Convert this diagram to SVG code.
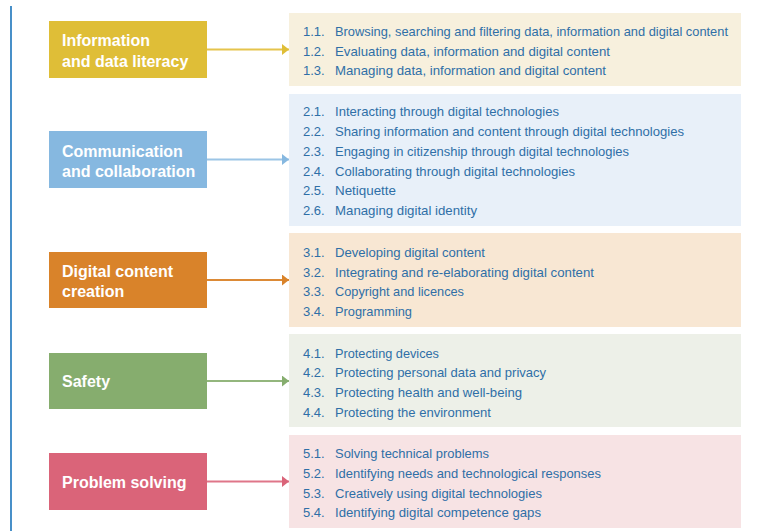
<svg xmlns="http://www.w3.org/2000/svg" width="764" height="531" viewBox="0 0 764 531">
<style>
.lbl{font-family:"Liberation Sans",Arial,sans-serif;font-weight:bold;font-size:16px;fill:#ffffff}
.it{font-family:"Liberation Sans",Arial,sans-serif;font-size:13px;fill:#2f6fa7}
.conn{stroke-width:2;fill:none}
</style>
<defs>
<marker id="a1" viewBox="0 0 7 11" refX="7" refY="5.5" markerWidth="7" markerHeight="11" markerUnits="userSpaceOnUse" orient="auto"><path d="M0,0L7,5.5L0,11z" fill="#dfbe37"/></marker>
<marker id="a2" viewBox="0 0 7 11" refX="7" refY="5.5" markerWidth="7" markerHeight="11" markerUnits="userSpaceOnUse" orient="auto"><path d="M0,0L7,5.5L0,11z" fill="#86b8e0"/></marker>
<marker id="a3" viewBox="0 0 7 11" refX="7" refY="5.5" markerWidth="7" markerHeight="11" markerUnits="userSpaceOnUse" orient="auto"><path d="M0,0L7,5.5L0,11z" fill="#d9832a"/></marker>
<marker id="a4" viewBox="0 0 7 11" refX="7" refY="5.5" markerWidth="7" markerHeight="11" markerUnits="userSpaceOnUse" orient="auto"><path d="M0,0L7,5.5L0,11z" fill="#86ad6e"/></marker>
<marker id="a5" viewBox="0 0 7 11" refX="7" refY="5.5" markerWidth="7" markerHeight="11" markerUnits="userSpaceOnUse" orient="auto"><path d="M0,0L7,5.5L0,11z" fill="#da6479"/></marker>
</defs>
<rect width="764" height="531" fill="#ffffff"/>
<line x1="11" y1="6" x2="11" y2="531" stroke="#1a74bb" stroke-width="1.6"/>

<g id="panel1">
<rect x="289" y="13" width="452" height="73" fill="#f7f0dd"/>
<text class="it" x="303" y="36">1.1.</text><text class="it" x="335" y="36" textLength="393" lengthAdjust="spacingAndGlyphs">Browsing, searching and filtering data, information and digital content</text>
<text class="it" x="303" y="55.5">1.2.</text><text class="it" x="335" y="55.5" textLength="275" lengthAdjust="spacingAndGlyphs">Evaluating data, information and digital content</text>
<text class="it" x="303" y="75">1.3.</text><text class="it" x="335" y="75" textLength="271" lengthAdjust="spacingAndGlyphs">Managing data, information and digital content</text>
</g>
<g id="panel2">
<rect x="289" y="94" width="452" height="132" fill="#e8f0f9"/>
<text class="it" x="303" y="116">2.1.</text><text class="it" x="335" y="116" textLength="224" lengthAdjust="spacingAndGlyphs">Interacting through digital technologies</text>
<text class="it" x="303" y="135.5">2.2.</text><text class="it" x="335" y="135.5" textLength="349" lengthAdjust="spacingAndGlyphs">Sharing information and content through digital technologies</text>
<text class="it" x="303" y="155.5">2.3.</text><text class="it" x="335" y="155.5" textLength="294" lengthAdjust="spacingAndGlyphs">Engaging in citizenship through digital technologies</text>
<text class="it" x="303" y="175.5">2.4.</text><text class="it" x="335" y="175.5" textLength="240" lengthAdjust="spacingAndGlyphs">Collaborating through digital technologies</text>
<text class="it" x="303" y="195">2.5.</text><text class="it" x="335" y="195" textLength="61" lengthAdjust="spacingAndGlyphs">Netiquette</text>
<text class="it" x="303" y="214.5">2.6.</text><text class="it" x="335" y="214.5" textLength="142" lengthAdjust="spacingAndGlyphs">Managing digital identity</text>
</g>
<g id="panel3">
<rect x="289" y="233" width="452" height="94" fill="#f8e7d3"/>
<text class="it" x="303" y="257">3.1.</text><text class="it" x="335" y="257" textLength="150" lengthAdjust="spacingAndGlyphs">Developing digital content</text>
<text class="it" x="303" y="276.5">3.2.</text><text class="it" x="335" y="276.5" textLength="259" lengthAdjust="spacingAndGlyphs">Integrating and re-elaborating digital content</text>
<text class="it" x="303" y="296">3.3.</text><text class="it" x="335" y="296" textLength="129" lengthAdjust="spacingAndGlyphs">Copyright and licences</text>
<text class="it" x="303" y="315.5">3.4.</text><text class="it" x="335" y="315.5" textLength="77" lengthAdjust="spacingAndGlyphs">Programming</text>
</g>
<g id="panel4">
<rect x="289" y="334" width="452" height="93" fill="#edf0e8"/>
<text class="it" x="303" y="357.5">4.1.</text><text class="it" x="335" y="357.5" textLength="104" lengthAdjust="spacingAndGlyphs">Protecting devices</text>
<text class="it" x="303" y="377">4.2.</text><text class="it" x="335" y="377" textLength="211" lengthAdjust="spacingAndGlyphs">Protecting personal data and privacy</text>
<text class="it" x="303" y="396.5">4.3.</text><text class="it" x="335" y="396.5" textLength="187" lengthAdjust="spacingAndGlyphs">Protecting health and well-being</text>
<text class="it" x="303" y="416.5">4.4.</text><text class="it" x="335" y="416.5" textLength="156" lengthAdjust="spacingAndGlyphs">Protecting the environment</text>
</g>
<g id="panel5">
<rect x="289" y="435" width="452" height="93" fill="#f7e3e4"/>
<text class="it" x="303" y="458">5.1.</text><text class="it" x="335" y="458" textLength="154" lengthAdjust="spacingAndGlyphs">Solving technical problems</text>
<text class="it" x="303" y="477.5">5.2.</text><text class="it" x="335" y="477.5" textLength="266" lengthAdjust="spacingAndGlyphs">Identifying needs and technological responses</text>
<text class="it" x="303" y="497.5">5.3.</text><text class="it" x="335" y="497.5" textLength="207" lengthAdjust="spacingAndGlyphs">Creatively using digital technologies</text>
<text class="it" x="303" y="517">5.4.</text><text class="it" x="335" y="517" textLength="206" lengthAdjust="spacingAndGlyphs">Identifying digital competence gaps</text>
</g>

<g id="node1"><rect x="49" y="21" width="158" height="57" fill="#dfbe37"/><text class="lbl" x="62" y="46">Information</text><text class="lbl" x="62" y="66.5">and data literacy</text></g>
<g id="node2"><rect x="49" y="131" width="158" height="57" fill="#86b8e0"/><text class="lbl" x="62" y="156.5">Communication</text><text class="lbl" x="62" y="176.5">and collaboration</text></g>
<g id="node3"><rect x="49" y="252" width="158" height="56" fill="#d9832a"/><text class="lbl" x="62" y="276.5">Digital content</text><text class="lbl" x="62" y="296.5">creation</text></g>
<g id="node4"><rect x="49" y="353" width="158" height="56" fill="#86ad6e"/><text class="lbl" x="62" y="386.5">Safety</text></g>
<g id="node5"><rect x="49" y="453" width="158" height="57" fill="#da6479"/><text class="lbl" x="62" y="487.5">Problem solving</text></g>

<g id="connectors">
<line class="conn" x1="207" y1="49.5" x2="289" y2="49.5" stroke="#e5c44c" marker-end="url(#a1)"/>
<line class="conn" x1="207" y1="159.5" x2="289" y2="159.5" stroke="#9cc5e6" marker-end="url(#a2)"/>
<line class="conn" x1="207" y1="280" x2="289" y2="280" stroke="#dc8a36" marker-end="url(#a3)"/>
<line class="conn" x1="207" y1="381" x2="289" y2="381" stroke="#93b67d" marker-end="url(#a4)"/>
<line class="conn" x1="207" y1="481.5" x2="289" y2="481.5" stroke="#df7689" marker-end="url(#a5)"/>
</g>
</svg>
